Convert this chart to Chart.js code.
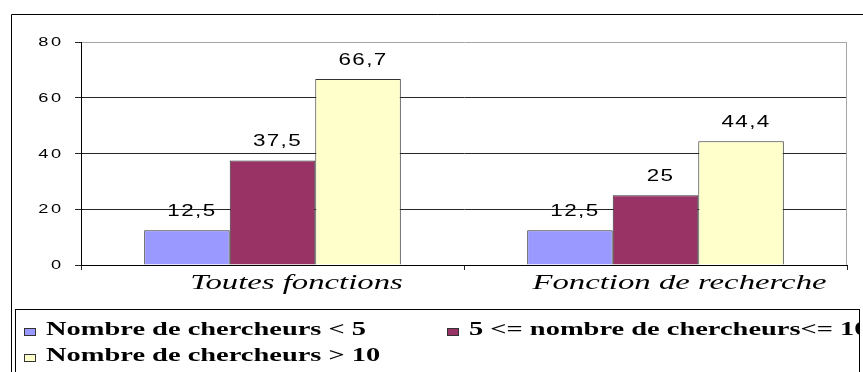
<!DOCTYPE html>
<html lang="fr">
<head>
<meta charset="UTF-8">
<title>Nombre de chercheurs</title>
<script src="https://cdn.jsdelivr.net/npm/chart.js"></script>
<style>
  html, body { margin: 0; padding: 0; background: #fff; }
  #wrap { width: 863px; height: 372px; }
</style>
</head>
<body>
<div id="wrap"><canvas id="graphe" width="863" height="372"></canvas></div>
<script>
// Données
const categories = ['Toutes fonctions', 'Fonction de recherche'];
const moinsDe5 = [12.5, 12.5];
const de5a10 = [37.5, 25];
const plusDe10 = [66.7, 44.4];
const yTicks = [0, 20, 40, 60, 80];
const seriesNames = ['Nombre de chercheurs < 5', '5 <= nombre de chercheurs<= 10', 'Nombre de chercheurs > 10'];
const seriesColors = ['#9999FF', '#993366', '#FFFFCC'];

// les textes sont élargis horizontalement
function texteEtire(ctx, txt, x, y, font, align, spacing, etire) {
  ctx.save();
  ctx.font = font;
  ctx.textAlign = align;
  ctx.textBaseline = 'alphabetic';
  ctx.letterSpacing = (spacing || 0) + 'px';
  ctx.fillStyle = '#000';
  ctx.translate(x, y);
  ctx.scale(etire, 1);
  ctx.fillText(txt, 0, 0);
  ctx.restore();
}

// cadre, étiquettes des axes, valeurs et légende
const decor = {
  id: 'decor',
  beforeDraw(chart) {
    const ctx = chart.ctx;
    ctx.save();
    ctx.fillStyle = '#fff';
    ctx.fillRect(0, 0, chart.width, chart.height);
    ctx.strokeStyle = '#000';
    ctx.lineWidth = 1;
    ctx.beginPath();
    ctx.moveTo(11.5, chart.height);
    ctx.lineTo(11.5, 14.5);
    ctx.lineTo(chart.width, 14.5);
    ctx.stroke();
    ctx.restore();
  },
  afterDatasetsDraw(chart) {
    const ctx = chart.ctx;
    chart.data.datasets.forEach((ds, i) => {
      chart.getDatasetMeta(i).data.forEach((bar, j) => {
        const txt = String(ds.data[j]).replace('.', ',');
        texteEtire(ctx, txt, bar.x + 5, bar.y - 14, '16px "Liberation Sans", Arial', 'center', 1, 1.4);
      });
    });
  },
  afterDraw(chart) {
    const ctx = chart.ctx;
    const area = chart.chartArea;
    const xs = chart.scales.x;
    const ys = chart.scales.y;

    // bord droit de la zone de traçage
    ctx.save();
    ctx.strokeStyle = '#a6a6a6';
    ctx.lineWidth = 1;
    ctx.beginPath();
    ctx.moveTo(Math.round(area.right) - 0.5, area.top);
    ctx.lineTo(Math.round(area.right) - 0.5, area.bottom);
    ctx.stroke();
    ctx.restore();

    ys.ticks.forEach(t => {
      texteEtire(ctx, String(t.value), ys.right - 17, ys.getPixelForValue(t.value) + 4, '13px "Liberation Sans", Arial', 'right', 2, 1.4);
    });

    categories.forEach((c, i) => {
      texteEtire(ctx, c, xs.getPixelForValue(i) + 24, xs.top + 24, 'italic 21px "Liberation Serif", "Times New Roman"', 'center', 0, 1.56);
    });

    // légende
    ctx.save();
    ctx.strokeStyle = '#000';
    ctx.lineWidth = 1;
    ctx.strokeRect(15.5, 309.5, 844, 80);
    ctx.beginPath();
    ctx.rect(16, 310, 843, 70);
    ctx.clip();
    const pos = [[24, 335], [447, 335], [24, 361]];
    chart.data.datasets.forEach((ds, i) => {
      const [x, y] = pos[i];
      ctx.fillStyle = ds.backgroundColor;
      ctx.fillRect(x, y - 7, 12, 8);
      ctx.strokeStyle = '#333';
      ctx.strokeRect(x + 0.5, y - 6.5, 11, 7);
      texteEtire(ctx, ds.label, x + 22, y, 'bold 18px "Liberation Serif", "Times New Roman"', 'left', 0, 1.58);
    });
    ctx.restore();
  }
};

new Chart(document.getElementById('graphe'), {
  type: 'bar',
  data: {
    labels: categories,
    datasets: [moinsDe5, de5a10, plusDe10].map((vals, i) => ({
      label: seriesNames[i],
      data: vals,
      backgroundColor: seriesColors[i],
      borderColor: '#333',
      borderWidth: 1,
      categoryPercentage: 0.67,
      barPercentage: 1
    }))
  },
  options: {
    responsive: false,
    animation: false,
    devicePixelRatio: 1,
    layout: { padding: { top: 42, right: 16, left: 0, bottom: 0 } },
    plugins: {
      legend: { display: false },
      tooltip: { enabled: false }
    },
    scales: {
      x: {
        afterFit: s => { s.height = 107; },
        ticks: { display: false },
        grid: { offset: true, drawOnChartArea: false, tickLength: 5, color: '#262626' },
        border: { color: '#000', width: 1 }
      },
      y: {
        min: 0,
        max: 80,
        afterFit: s => { s.width = 81; },
        afterBuildTicks: s => { s.ticks = yTicks.map(v => ({ value: v })); },
        ticks: { display: false },
        grid: {
          color: c => (c.tick && c.tick.value === 80 ? '#a6a6a6' : '#262626'),
          tickColor: '#262626',
          tickLength: 6
        },
        border: { color: '#000', width: 1 }
      }
    }
  },
  plugins: [decor]
});
</script>
</body>
</html>
